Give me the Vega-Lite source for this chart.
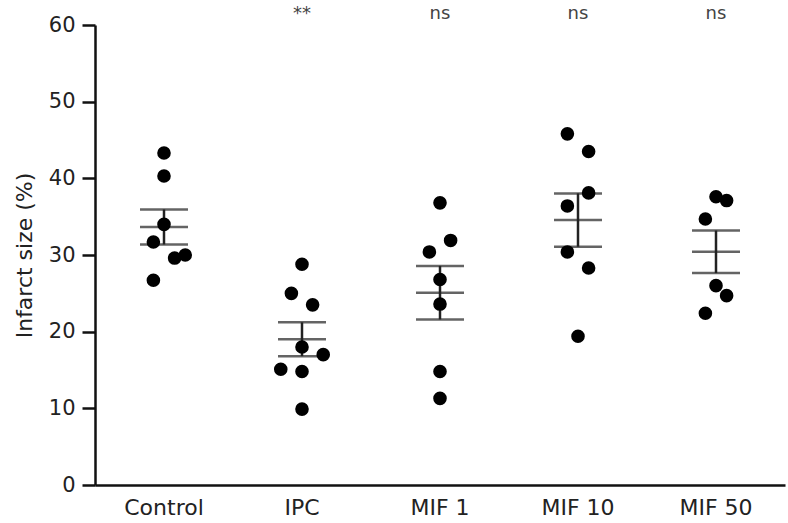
{
  "$schema": "https://vega.github.io/schema/vega-lite/v6.json",
  "autosize": "none",
  "width": 690,
  "height": 460,
  "padding": {"left": 95, "top": 25, "right": 3, "bottom": 38},
  "background": "white",
  "config": {
    "view": {"stroke": null},
    "font": "DejaVu Sans"
  },
  "datasets": {
    "points": [
      {"group": "Control", "value": 43.3, "jitter": 0},
      {"group": "Control", "value": 40.3, "jitter": 0},
      {"group": "Control", "value": 34.0, "jitter": 0},
      {"group": "Control", "value": 31.7, "jitter": -1},
      {"group": "Control", "value": 29.6, "jitter": 1},
      {"group": "Control", "value": 30.0, "jitter": 2},
      {"group": "Control", "value": 26.7, "jitter": -1},
      {"group": "IPC", "value": 28.8, "jitter": 0},
      {"group": "IPC", "value": 25.0, "jitter": -1},
      {"group": "IPC", "value": 23.5, "jitter": 1},
      {"group": "IPC", "value": 18.0, "jitter": 0},
      {"group": "IPC", "value": 17.0, "jitter": 2},
      {"group": "IPC", "value": 15.1, "jitter": -2},
      {"group": "IPC", "value": 14.8, "jitter": 0},
      {"group": "IPC", "value": 9.9, "jitter": 0},
      {"group": "MIF 1", "value": 36.8, "jitter": 0},
      {"group": "MIF 1", "value": 31.9, "jitter": 1},
      {"group": "MIF 1", "value": 30.4, "jitter": -1},
      {"group": "MIF 1", "value": 26.8, "jitter": 0},
      {"group": "MIF 1", "value": 23.6, "jitter": 0},
      {"group": "MIF 1", "value": 14.8, "jitter": 0},
      {"group": "MIF 1", "value": 11.3, "jitter": 0},
      {"group": "MIF 10", "value": 45.8, "jitter": -1},
      {"group": "MIF 10", "value": 43.5, "jitter": 1},
      {"group": "MIF 10", "value": 38.1, "jitter": 1},
      {"group": "MIF 10", "value": 36.4, "jitter": -1},
      {"group": "MIF 10", "value": 30.4, "jitter": -1},
      {"group": "MIF 10", "value": 28.3, "jitter": 1},
      {"group": "MIF 10", "value": 19.4, "jitter": 0},
      {"group": "MIF 50", "value": 37.6, "jitter": 0},
      {"group": "MIF 50", "value": 37.1, "jitter": 1},
      {"group": "MIF 50", "value": 34.7, "jitter": -1},
      {"group": "MIF 50", "value": 26.0, "jitter": 0},
      {"group": "MIF 50", "value": 24.7, "jitter": 1},
      {"group": "MIF 50", "value": 22.4, "jitter": -1}
    ],
    "notes": [
      {"group": "IPC", "label": "**"},
      {"group": "MIF 1", "label": "ns"},
      {"group": "MIF 10", "label": "ns"},
      {"group": "MIF 50", "label": "ns"}
    ]
  },
  "encoding": {
    "x": {
      "field": "group",
      "type": "nominal",
      "sort": ["Control", "IPC", "MIF 1", "MIF 10", "MIF 50"],
      "scale": {"domain": ["Control", "IPC", "MIF 1", "MIF 10", "MIF 50"], "paddingInner": 0, "paddingOuter": 0},
      "axis": {
        "title": null,
        "labelAngle": 0,
        "labelFontSize": 22,
        "labelColor": "#222",
        "labelPadding": 12,
        "ticks": false,
        "domainColor": "#111",
        "domainWidth": 2.5
      }
    }
  },
  "layer": [
    {
      "data": {"name": "points"},
      "transform": [
        {"aggregate": [{"op": "mean", "field": "value", "as": "m"}, {"op": "stderr", "field": "value", "as": "se"}], "groupby": ["group"]},
        {"calculate": "datum.m + datum.se", "as": "hi"},
        {"calculate": "datum.m - datum.se", "as": "lo"}
      ],
      "mark": {"type": "rule", "color": "#222", "strokeWidth": 2.5},
      "encoding": {
        "y": {"field": "lo", "type": "quantitative"},
        "y2": {"field": "hi"}
      }
    },
    {
      "data": {"name": "points"},
      "transform": [
        {"aggregate": [{"op": "mean", "field": "value", "as": "m"}, {"op": "stderr", "field": "value", "as": "se"}], "groupby": ["group"]},
        {"calculate": "datum.m + datum.se", "as": "hi"},
        {"calculate": "datum.m - datum.se", "as": "lo"},
        {"fold": ["lo", "m", "hi"], "as": ["stat", "v"]}
      ],
      "mark": {"type": "tick", "color": "#222", "size": 48, "thickness": 2.5, "orient": "horizontal"},
      "encoding": {
        "y": {"field": "v", "type": "quantitative"}
      }
    },
    {
      "data": {"name": "points"},
      "mark": {"type": "point", "filled": true, "color": "black", "opacity": 1, "size": 185},
      "encoding": {
        "xOffset": {"field": "jitter", "type": "quantitative", "scale": {"domain": [-6.5, 6.5]}},
        "y": {
          "field": "value",
          "type": "quantitative",
          "scale": {"domain": [0, 60], "nice": false, "zero": true},
          "axis": {
            "title": "Infarct size (%)",
            "titleFontSize": 22,
            "titleFontWeight": "normal",
            "titleColor": "#222",
            "titlePadding": 12,
            "values": [0, 10, 20, 30, 40, 50, 60],
            "labelFontSize": 21,
            "labelColor": "#222",
            "labelPadding": 7,
            "tickSize": 13,
            "tickWidth": 2.5,
            "tickColor": "#111",
            "domainColor": "#111",
            "domainWidth": 2.5,
            "grid": false
          }
        }
      }
    },
    {
      "data": {"name": "notes"},
      "mark": {"type": "text", "fontSize": 18, "color": "#444", "baseline": "alphabetic"},
      "encoding": {
        "y": {"datum": 60.8},
        "text": {"field": "label"}
      }
    }
  ]
}
